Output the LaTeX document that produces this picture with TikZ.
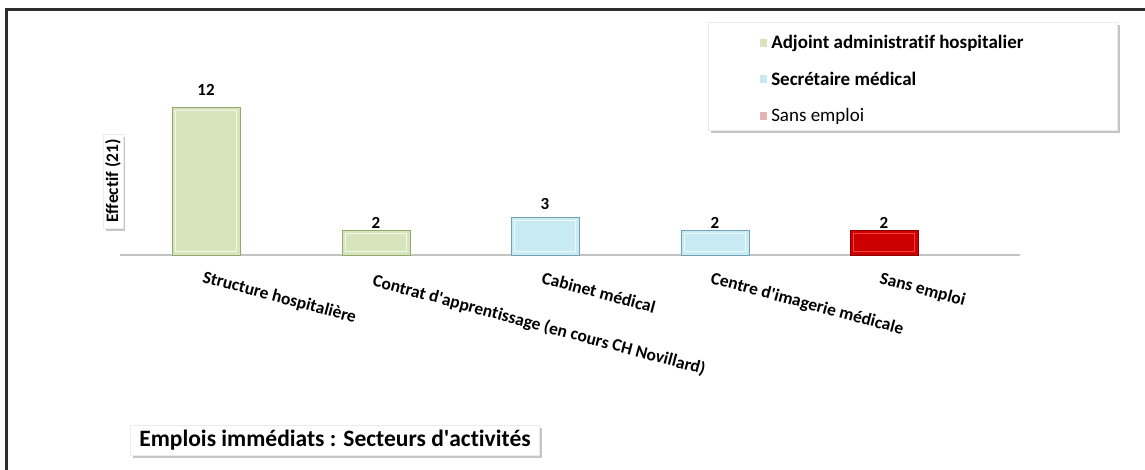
\documentclass[tikz,border=0pt]{standalone}
\usepackage{fontspec}
\setmainfont{Carlito}[Ligatures={NoCommon}]
\usetikzlibrary{shadows}

\definecolor{barGreen}{RGB}{215,228,188}
\definecolor{edgeGreen}{RGB}{145,170,105}
\definecolor{barBlue}{RGB}{200,234,243}
\definecolor{edgeBlue}{RGB}{115,160,178}
\definecolor{barRed}{RGB}{204,0,0}
\definecolor{edgeRed}{RGB}{140,0,0}
\definecolor{keyRed}{RGB}{228,180,180}
\definecolor{axisGray}{RGB}{195,195,195}
\definecolor{frameGray}{RGB}{45,45,45}

\tikzset{
  valtext/.style={font=\bfseries\fontsize{17}{19}\selectfont,anchor=base,inner sep=0pt},
  cattext/.style={font=\bfseries\fontsize{17.5}{20}\selectfont,anchor=north west,rotate=-15,inner sep=0pt},
  keytext/.style={font=\fontsize{19}{21}\selectfont,anchor=west,inner sep=0pt},
  keymark/.style={minimum size=8.5pt,inner sep=0pt,draw=white,line width=0.6pt},
  paperbox/.style={fill=white,draw=black!8,drop shadow={opacity=0.45,shadow xshift=2.5pt,shadow yshift=-3pt}},
}

\begin{document}
\begin{tikzpicture}[x=1pt,y=-1pt]
  \useasboundingbox (0,0) rectangle (1145,470);
  \fill[white] (0,0) rectangle (1145,470);

  % cadre
  \draw[frameGray,line width=2.2pt] (6.5,470)--(6.5,9.5)--(1145,9.5);

  % legende
  \node[paperbox,minimum width=409pt,minimum height=108pt,anchor=north west] (legend) at (708,22) {};
  \node[keymark,fill=barGreen] (kA) at (763.5,43) {};
  \node[keytext,font=\bfseries\fontsize{19}{21}\selectfont] (tA) at ([xshift=3pt]kA.east) {Adjoint administratif hospitalier};
  \node[keymark,fill=barBlue] (kS) at (763.5,79) {};
  \node[keytext,font=\bfseries\fontsize{19}{21}\selectfont] (tS) at ([xshift=3pt]kS.east) {Secrétaire médical};
  \node[keymark,fill=keyRed] (kN) at (763.5,116) {};
  \node[keytext] (tN) at ([xshift=3pt]kN.east) {Sans emploi};

  % axe
  \coordinate (axL) at (120,255);
  \coordinate (axR) at (1020,255);
  \draw[axisGray,line width=1.6pt] (axL)--(axR);

  % barres
  \draw[fill=barGreen,draw=edgeGreen,line width=0.8pt] (172,107) rectangle (240,255);
  \draw[white!70!barGreen,line width=0.8pt] (175.5,110.5) rectangle (236.5,251.5);
  \draw[fill=barGreen,draw=edgeGreen,line width=0.8pt] (342,230) rectangle (410,255);
  \draw[white!70!barGreen,line width=0.8pt] (345.5,233.5) rectangle (406.5,251.5);
  \draw[fill=barBlue,draw=edgeBlue,line width=0.8pt] (511,217) rectangle (579,255);
  \draw[white!70!barBlue,line width=0.8pt] (514.5,220.5) rectangle (575.5,251.5);
  \draw[fill=barBlue,draw=edgeBlue,line width=0.8pt] (681,230) rectangle (749,255);
  \draw[white!70!barBlue,line width=0.8pt] (684.5,233.5) rectangle (745.5,251.5);
  \draw[fill=barRed,draw=edgeRed,line width=0.8pt] (850,230) rectangle (918,255);
  \draw[red!75!white,line width=0.8pt] (853.5,233.5) rectangle (914.5,251.5);

  % valeurs
  \node[valtext] (v1) at (206,96) {12};
  \node[valtext] (v2) at (376,229) {2};
  \node[valtext] (v3) at (545,210) {3};
  \node[valtext] (v4) at (715,229) {2};
  \node[valtext] (v5) at (884,229) {2};

  % categories
  \node[cattext] (c1) at (205,270) {Structure hospitalière};
  \node[cattext] (c2) at (375,273) {Contrat d\textquotesingle apprentissage (en cours CH Novillard)};
  \node[cattext] (c3) at (544,271) {Cabinet médical};
  \node[cattext] (c4) at (713,271) {Centre d\textquotesingle imagerie médicale};
  \node[cattext] (c5) at (882,271) {Sans emploi};

  % titre axe
  \node[paperbox,rotate=90,font=\bfseries\fontsize{17.5}{19}\selectfont,inner xsep=5pt,inner ysep=2pt] (ylab) at (113,181) {Effectif (21)};

  % titre
  \node[paperbox,font=\bfseries\fontsize{23.5}{27}\selectfont,inner xsep=9pt,inner ysep=5pt] (title) at (335,440) {Emplois immédiats : Secteurs d\textquotesingle activités};
\end{tikzpicture}
\end{document}
